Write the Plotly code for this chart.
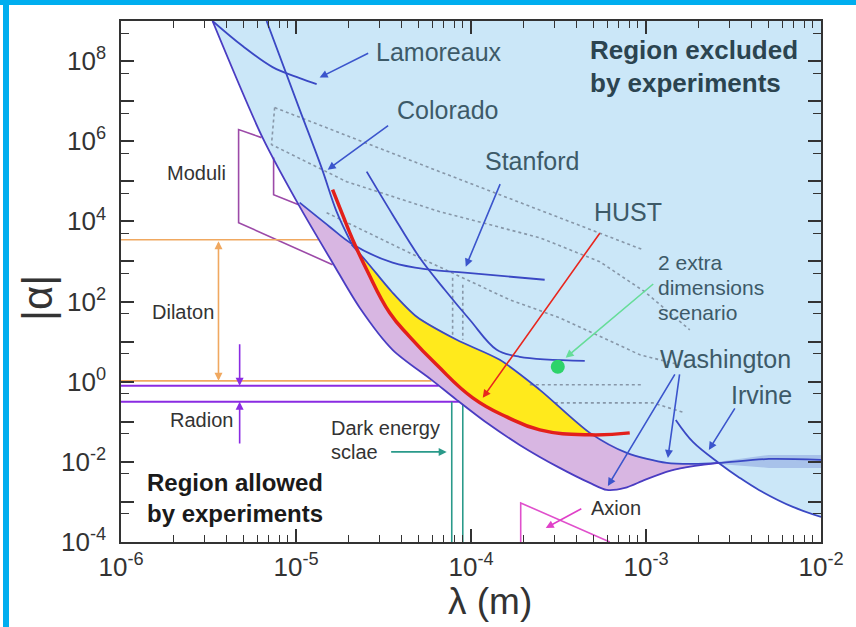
import numpy as np
import plotly.graph_objects as go

# ---------------- data: log10(lambda [m]) , log10(|alpha|) ----------------
lineA_lx = [-5.477, -5.191, -4.979, -4.791, -4.636, -4.448, -4.225, -4.082, -3.910, -3.722,
            -3.493, -3.321, -3.224, -3.121, -3.007, -2.864, -2.721, -2.584]
lineA_ly = [9.0, 6.09, 4.367, 2.969, 1.845, 0.796, 0.046, -0.453, -1.027, -1.577,
            -2.151, -2.526, -2.701, -2.651, -2.451, -2.226, -2.101, -2.027]

washU_lx = [-4.682, -4.596, -4.453, -4.310, -4.082, -3.836, -3.607, -3.321, -3.110, -2.881,
            -2.732, -2.584, -2.298, -2.0]
washU_ly = [3.418, 2.993, 2.244, 1.62, 1.045, 0.546, -0.203, -1.277, -1.777, -2.027,
            -2.052, -2.027, -1.927, -1.952]

irvine_lx = [-2.830, -2.732, -2.584, -2.464, -2.355, -2.161, -2.0]
irvine_ly = [-0.953, -1.502, -2.027, -2.401, -2.701, -3.125, -3.375]

stanford_lx = [-4.979, -4.808, -4.682, -4.448, -4.236, -4.036, -3.579]
stanford_ly = [4.467, 3.868, 3.443, 2.969, 2.794, 2.719, 2.544]

colorado_lx = [-5.168, -4.979, -4.854, -4.768, -4.682]
colorado_ly = [9.0, 6.79, 5.341, 4.242, 3.443]

colorado2_lx = [-4.596, -4.448, -4.293, -4.150, -4.007, -3.853, -3.722, -3.350]
colorado2_ly = [5.241, 4.167, 3.093, 2.294, 1.545, 0.796, 0.621, 0.521]

lamoreaux_lx = [-5.477, -5.305, -5.134, -4.979, -4.882]
lamoreaux_ly = [9.0, 8.375, 7.85, 7.575, 7.425]

hust_lx = [-4.791, -4.734, -4.676, -4.596, -4.465, -4.350, -4.196, -3.990, -3.796, -3.607, -3.321, -3.093]
hust_ly = [4.792, 4.167, 3.543, 2.794, 1.72, 1.12, 0.421, -0.403, -0.878, -1.202, -1.327, -1.277]

band_lx = [-2.584, -2.298, -2.0, -2.0, -2.298, -2.584]
band_ly = [-2.0, -1.827, -1.827, -2.151, -2.151, -2.052]

dot1_lx = [-5.122, -4.179, -3.018]
dot1_ly = [6.84, 5.241, 3.293]
dot2_lx = [-5.122, -5.140, -4.711, -4.179, -3.607, -3.264, -3.007, -2.750]
dot2_ly = [6.84, 5.916, 4.991, 4.242, 3.593, 2.993, 2.244, 1.295]
dot3_lx = [-4.825, -4.293, -3.779, -3.493, -3.035, -2.807]
dot3_ly = [4.217, 3.093, 2.044, 1.595, 0.671, 0.421]
dot4_lx = [-3.664, -3.018]
dot4_ly = [-0.078, -0.078]
dot5_lx = [-3.521, -2.961, -2.778]
dot5_ly = [-0.528, -0.528, -0.778]
dotv1_lx = [-4.105, -4.105]
dotv1_ly = [2.594, 1.17]
dotv2_lx = [-4.047, -4.047]
dotv2_ly = [2.419, 1.045]

moduli1_lx = [-5.197, -5.328, -5.328, -4.791]
moduli1_ly = [6.09, 6.29, 3.967, 2.919]
moduli2_lx = [-5.128, -5.128, -4.985]
moduli2_ly = [5.591, 4.667, 4.417]

axion_lx = [-3.716, -3.716, -3.207]
axion_ly = [-4.0, -3.025, -4.0]

dilaton_top_lx = [-6.0, -4.871]
dilaton_top_ly = [3.543, 3.543]
dilaton_bot_lx = [-6.0, -4.225]
dilaton_bot_ly = [0.021, 0.021]

radion_top_lx = [-6.0, -4.185]
radion_top_ly = [-0.103, -0.103]
radion_bot_lx = [-6.0, -4.070]
radion_bot_ly = [-0.503, -0.503]

dark1_lx = [-4.110, -4.110]
dark1_ly = [-0.503, -4.0]
dark2_lx = [-4.047, -4.047]
dark2_ly = [-0.578, -4.0]

green_point_lx = [-3.504]
green_point_ly = [0.371]

# arrows: (tail, head) in log10 units
arrows = [
    ((-4.579, 8.213), (-4.865, 7.589), "#3b55cc"),   # Lamoreaux
    ((-4.465, 6.415), (-4.819, 5.291), "#3b55cc"),   # Colorado
    ((-3.830, 4.967), (-4.030, 2.869), "#3b55cc"),   # Stanford
    ((-2.830, 0.221), (-3.218, -2.601), "#3b55cc"),  # Washington 1
    ((-2.807, 0.221), (-2.875, -1.902), "#3b55cc"),  # Washington 2
    ((-2.487, -0.628), (-2.641, -1.702), "#3b55cc"), # Irvine
    ((-3.258, 3.743), (-3.933, -0.403), "#e8261e"),  # HUST
    ((-2.950, 2.469), (-3.459, 0.596), "#66dd99"),   # 2 extra dims
    ((-4.465, -1.752), (-4.139, -1.752), "#2a9a8a"), # dark energy
    ((-3.361, -3.150), (-3.573, -3.650), "#e040c8"), # axion
    ((-5.322, 0.97), (-5.322, -0.103), "#8a2be2"),   # radion down
    ((-5.322, -1.577), (-5.322, -0.503), "#8a2be2"), # radion up
]
dilaton_arrow = ((-5.443, 3.543), (-5.443, 0.021))

x_tick_exp = [-6, -5, -4, -3, -2]
y_tick_exp = list(range(-4, 9))

# ---------------- helpers ----------------
def v(a):
    return list(10 ** np.array(a, dtype=float))

W, H = 856, 627
L, R, T, B = 121, 35, 21, 85
PW, PH = W - L - R, H - T - B

def P(px, py):
    return (px - L) / PW, (H - B - py) / PH

BLUE_FILL = "#cbe7f8"
PINK = "#d8b6e2"
YELLOW = "#ffea1c"
LINE_BLUE = "#3a48c4"
LINE_A = "#4a3cc2"

fig = go.Figure()

def poly(lx, ly, color):
    fig.add_trace(go.Scatter(x=v(lx), y=v(ly), mode="lines", fill="toself", fillcolor=color,
                             line=dict(width=0, color=color), hoverinfo="skip", showlegend=False))

def line(lx, ly, color, width=1.6, dash="solid", shape="linear", smoothing=1.0):
    ln = dict(color=color, width=width, dash=dash, shape=shape)
    if shape == "spline":
        ln["smoothing"] = smoothing
    fig.add_trace(go.Scatter(x=v(lx), y=v(ly), mode="lines", line=ln,
                             hoverinfo="skip", showlegend=False))

# excluded region
blue_lx = lineA_lx + irvine_lx[3:] + [-2.0, lineA_lx[0]]
blue_ly = lineA_ly + irvine_ly[3:] + [9.0, 9.0]
poly(blue_lx, blue_ly, BLUE_FILL)

# pink region
pink_lx = lineA_lx[2:] + washU_lx[11::-1] + stanford_lx[2::-1]
pink_ly = lineA_ly[2:] + washU_ly[11::-1] + stanford_ly[2::-1]
poly(pink_lx, pink_ly, PINK)

# yellow region
yel_lx = hust_lx[2:11] + washU_lx[7::-1]
yel_ly = hust_ly[2:11] + washU_ly[7::-1]
poly(yel_lx, yel_ly, YELLOW)

# band
poly(band_lx, band_ly, "#a8c2ea")

# dotted lines
DOT = "#8797a8"
for lx, ly in [(dot1_lx, dot1_ly), (dot2_lx, dot2_ly), (dot3_lx, dot3_ly), (dot4_lx, dot4_ly),
               (dot5_lx, dot5_ly), (dotv1_lx, dotv1_ly), (dotv2_lx, dotv2_ly)]:
    line(lx, ly, DOT, 1.6, "dot")

# theory lines
line(moduli1_lx, moduli1_ly, "#9c4aa8", 1.6)
line(moduli2_lx, moduli2_ly, "#9c4aa8", 1.6)
line(axion_lx, axion_ly, "#e050cc", 1.6)
line(dilaton_top_lx, dilaton_top_ly, "#f0a860", 1.6)
line(dilaton_bot_lx, dilaton_bot_ly, "#f0a860", 1.6)
line(radion_top_lx, radion_top_ly, "#8a2be2", 2.0)
line(radion_bot_lx, radion_bot_ly, "#8a2be2", 2.0)
line(dark1_lx, dark1_ly, "#2a9a8a", 1.6)
line(dark2_lx, dark2_ly, "#2a9a8a", 1.6)

# experimental curves
line(lamoreaux_lx, lamoreaux_ly, LINE_BLUE, 1.8, shape="spline")
line(colorado_lx, colorado_ly, LINE_BLUE, 1.8, shape="spline")
line(colorado2_lx, colorado2_ly, LINE_BLUE, 1.8, shape="spline")
line(stanford_lx, stanford_ly, LINE_BLUE, 1.8, shape="spline")
line(washU_lx, washU_ly, LINE_BLUE, 1.8, shape="spline", smoothing=0.8)
line(irvine_lx, irvine_ly, LINE_BLUE, 1.8, shape="spline")
line(lineA_lx, lineA_ly, LINE_A, 1.8, shape="spline", smoothing=0.8)
line(hust_lx, hust_ly, "#e3201b", 3.5, shape="spline", smoothing=1.3)

fig.add_trace(go.Scatter(x=v(green_point_lx), y=v(green_point_ly), mode="markers",
                         marker=dict(size=14, color="#2ed36a"), hoverinfo="skip", showlegend=False))

annotations = []
for tail, head, col in arrows:
    annotations.append(dict(x=head[0], y=head[1], ax=tail[0], ay=tail[1], xref="x", yref="y",
                            axref="x", ayref="y", text="", showarrow=True, arrowhead=2,
                            arrowsize=1.0, arrowwidth=1.6, arrowcolor=col))
annotations.append(dict(x=dilaton_arrow[1][0], y=dilaton_arrow[1][1], ax=dilaton_arrow[0][0],
                        ay=dilaton_arrow[0][1], xref="x", yref="y", axref="x", ayref="y", text="",
                        showarrow=True, arrowhead=2, startarrowhead=2, arrowside="end+start",
                        arrowsize=1.0, arrowwidth=1.6, arrowcolor="#f0a860"))

FONT = "Liberation Sans, Arial, sans-serif"
LBL = "#3d5a68"
texts = [
    ("Lamoreaux", 374, 52, 25, LBL, False),
    ("Colorado", 395, 110, 25, LBL, False),
    ("Stanford", 483, 161, 25, LBL, False),
    ("HUST", 592, 212, 25, LBL, False),
    ("2 extra", 656, 262, 21, LBL, False),
    ("dimensions", 656, 287, 21, LBL, False),
    ("scenario", 656, 312, 21, LBL, False),
    ("Washington", 658, 359, 25, LBL, False),
    ("Irvine", 729, 395, 25, LBL, False),
    ("Region excluded", 588, 50, 26, "#2b4450", True),
    ("by experiments", 588, 83, 26, "#2b4450", True),
    ("Moduli", 165, 173, 20, "#333333", False),
    ("Dilaton", 150, 312, 20, "#333333", False),
    ("Radion", 168, 420, 20, "#333333", False),
    ("Dark energy", 329, 428, 20, "#333333", False),
    ("sclae", 329, 452, 20, "#333333", False),
    ("Axion", 589, 508, 20, "#333333", False),
    ("Region allowed", 145, 482, 24, "#1a1a1a", True),
    ("by experiments", 145, 513, 24, "#1a1a1a", True),
]
for t, px, py, sz, col, bold in texts:
    x, y = P(px, py)
    annotations.append(dict(x=x, y=y, xref="paper", yref="paper", xanchor="left", yanchor="middle",
                            text=f"<b>{t}</b>" if bold else t, showarrow=False,
                            font=dict(family=FONT, size=sz, color=col)))

# axis titles
x, y = P(490, 601)
annotations.append(dict(x=x, y=y, xref="paper", yref="paper", xanchor="center", yanchor="middle",
                        text="λ (m)", showarrow=False,
                        font=dict(family=FONT, size=37, color="#333333")))
x, y = P(37, 298)
annotations.append(dict(x=x, y=y, xref="paper", yref="paper", xanchor="center", yanchor="middle",
                        text="|α|", showarrow=False, textangle=-90,
                        font=dict(family=FONT, size=42, color="#333333")))

# cyan frame
xa, ya = P(0, 0)
xb, yb = P(856, 5)
xc, yc = P(3, 627)
xd, _ = P(9, 0)
shapes = [
    dict(type="rect", xref="paper", yref="paper", x0=xa, x1=xb, y0=yb, y1=ya,
         fillcolor="#00aeef", line=dict(width=0), layer="above"),
    dict(type="rect", xref="paper", yref="paper", x0=xc, x1=xd, y0=yc, y1=ya,
         fillcolor="#00aeef", line=dict(width=0), layer="above"),
]

x_minor = [k * 10.0 ** n for n in range(-6, -2) for k in range(2, 10)]
y_minor = [5 * 10.0 ** n for n in range(-4, 9)]

fig.update_layout(
    width=W, height=H, autosize=False,
    margin=dict(l=L, r=R, t=T, b=B),
    paper_bgcolor="white", plot_bgcolor="white",
    annotations=annotations, shapes=shapes,
    xaxis=dict(type="log", range=[-6, -2], tickvals=[10.0 ** e for e in x_tick_exp],
               ticktext=[f"10<sup>{e}</sup>" for e in x_tick_exp],
               ticks="inside", ticklen=13, tickwidth=1.5, tickcolor="#333",
               minor=dict(tickvals=x_minor, ticks="inside", ticklen=7, tickwidth=1.2, tickcolor="#333"),
               showline=True, linecolor="#333", linewidth=1.5, mirror="ticks",
               showgrid=False, zeroline=False, ticklabelstandoff=1,
               tickfont=dict(family=FONT, size=26, color="#333")),
    yaxis=dict(type="log", range=[-4, 9], tickvals=[10.0 ** e for e in y_tick_exp],
               ticktext=[f"10<sup>{e}</sup>" if e % 2 == 0 else "" for e in y_tick_exp],
               ticks="inside", ticklen=13, tickwidth=1.5, tickcolor="#333",
               minor=dict(tickvals=y_minor, ticks="inside", ticklen=8, tickwidth=1.2, tickcolor="#333"),
               showline=True, linecolor="#333", linewidth=1.5, mirror="ticks",
               showgrid=False, zeroline=False, ticklabelstandoff=8,
               tickfont=dict(family=FONT, size=26, color="#333")),
)

fig.write_html("out.html", config={"displayModeBar": False},
               post_script="document.body.style.margin='0px';document.body.style.overflow='hidden';")
